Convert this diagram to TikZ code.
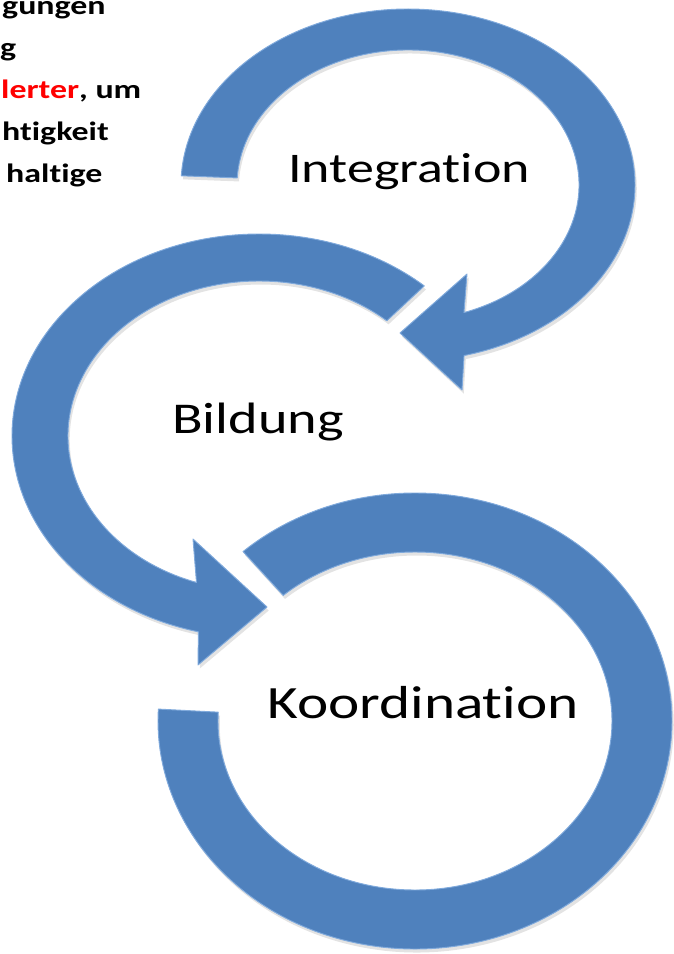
\documentclass[tikz,border=0pt]{standalone}
\usepackage{fontspec}
\usetikzlibrary{positioning, calc, shadows}
\setmainfont{Carlito}
\newfontfamily\labelfont[FakeStretch=1.28, Ligatures=NoCommon]{Carlito}
\definecolor{bandblue}{RGB}{79,129,189}
\definecolor{bandlight}{RGB}{128,170,220}
\tikzset{
    band/.style={fill=bandblue, draw=bandlight, line width=0.8pt, line join=round,
        drop shadow={opacity=0.22, shadow xshift=1.5pt, shadow yshift=-3pt}}, % bevelled arrow
    cycle label/.style={font=\labelfont\fontsize{36}{36}\selectfont, anchor=base, inner sep=0pt},
    note/.style={font=\labelfont\bfseries\fontsize{22.6}{36}\selectfont, anchor=base west, inner sep=0pt},
}

\begin{document}
\begin{tikzpicture}[x=0.03cm, y=0.03cm]
    \useasboundingbox (0,0) rectangle (673,-954);

    % centres of the three rings
    \coordinate (integ c) at (408,-185);
    \coordinate (bild c) at (259,-436);
    \coordinate (koord c) at (415,-721);

    % Koordination ring
    \path[band] ($(koord c)+(132:257 and 228)$)
        arc[start angle=132, end angle=-183, x radius=257, y radius=228]
        -- ($(koord c)+(-183:197 and 169)$)
        arc[start angle=-183, end angle=132, x radius=197, y radius=169] -- cycle;

    % Bildung ring, arrow into Koordination
    \path[band] ($(bild c)+(48:247 and 202)$)
        arc[start angle=48, end angle=255.8, x radius=247, y radius=202]
        -- (198,-665) -- (267,-607) -- (193,-539)
        -- ($(bild c)+(250.9:191 and 155)$)
        arc[start angle=250.9, end angle=48, x radius=191, y radius=155] -- cycle;

    % Integration ring, arrow into Bildung
    \path[band] ($(integ c)+(177:227 and 176)$)
        arc[start angle=177, end angle=-75.7, x radius=227, y radius=176]
        -- (462,-390) -- (400,-333) -- (467,-274)
        -- ($(integ c)+(-70.9:171 and 135)$)
        arc[start angle=-70.9, end angle=177, x radius=171, y radius=135] -- cycle;

    % labels
    \node[cycle label] (integ) at (409,-182) {Integration};
    \node[cycle label, font=\labelfont\fontsize{37.5}{37.5}\selectfont] (bild) at (258,-433) {Bildung};
    \node[cycle label, font=\labelfont\fontsize{39.5}{39.5}\selectfont] (koord) at (423,-718) {Koordination};

    % cut-off text box, top left
    \node[note] (note1) at (2,-15) {gungen};
    \node[note] (note2) at (0,-56) {g};
    \node[note] (note3) at (1,-98) {\textcolor{red}{lerter}, um};
    \node[note] (note4) at (2,-140) {htigkeit};
    \node[note] (note5) at (6,-182) {haltige};
\end{tikzpicture}
\end{document}
